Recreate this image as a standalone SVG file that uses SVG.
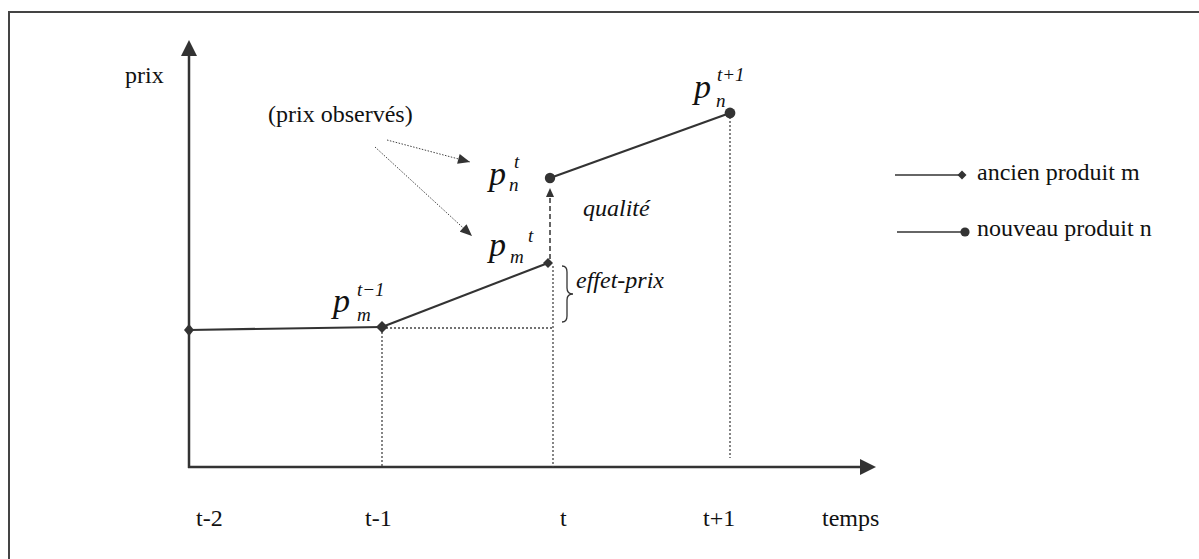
<svg xmlns="http://www.w3.org/2000/svg" width="1199" height="559" viewBox="0 0 1199 559">
<defs>
<style>
text{font-family:"Liberation Serif","Times New Roman",serif;fill:#111;}
.lbl{font-size:24px;}
.it{font-style:italic;}
.p{font-size:34px;font-style:italic;}
.s{font-size:19px;font-style:italic;}
.axis{stroke:#333;stroke-width:2.5;fill:none;}
.line{stroke:#333;stroke-width:2.2;fill:none;}
.dot{stroke:#444;stroke-width:1.3;stroke-dasharray:2 2;fill:none;}
.dash{stroke:#333;stroke-width:1.5;stroke-dasharray:5 3;fill:none;}
.mk{fill:#333;}
</style>
<marker id="arrs" viewBox="0 0 12 10" refX="12" refY="5" markerWidth="13" markerHeight="10" markerUnits="userSpaceOnUse" orient="auto">
<path d="M0,0 L12,5 L0,10 z" fill="#333"/>
</marker>
</defs>
<rect x="9" y="12" width="1200" height="560" fill="#fff" stroke="#444" stroke-width="2"/>

<g id="axes">
<line class="axis" x1="189" y1="468" x2="189" y2="54"/>
<path d="M189,40 L181,56 L197,56 z" class="mk"/>
<line class="axis" x1="188" y1="467" x2="861" y2="467"/>
<path d="M876,467 L860,459 L860,475 z" class="mk"/>
<text class="lbl" x="125" y="83">prix</text>
<text class="lbl" x="822" y="526">temps</text>
<text class="lbl" x="196" y="526">t-2</text>
<text class="lbl" x="365" y="526">t-1</text>
<text class="lbl" x="560" y="526">t</text>
<text class="lbl" x="703" y="526">t+1</text>
</g>

<g id="connectors">
<line class="dot" x1="382" y1="328" x2="382" y2="467"/>
<line class="dot" x1="553" y1="266" x2="553" y2="467"/>
<line class="dot" x1="730" y1="117" x2="730" y2="458"/>
<line class="dot" x1="382" y1="328" x2="553" y2="328"/>
<line class="dash" x1="550" y1="259" x2="550" y2="196"/>
<path d="M550,188 L546,197 L554,197 z" class="mk"/>
<line x1="387" y1="140" x2="470" y2="162" stroke="#444" stroke-width="1" stroke-dasharray="1.5 1.5" marker-end="url(#arrs)"/>
<line x1="375" y1="147" x2="472" y2="236" stroke="#444" stroke-width="1" stroke-dasharray="1.5 1.5" marker-end="url(#arrs)"/>
</g>

<g id="ancien-produit">
<line class="line" x1="189" y1="330" x2="382" y2="327"/>
<line class="line" x1="382" y1="327" x2="548" y2="263"/>
<path d="M189,324 L194,330 L189,336 L184,330 z" class="mk"/>
<path d="M382,321 L388,327 L382,333 L376,327 z" class="mk"/>
<path d="M548,258 L553,263 L548,268 L543,263 z" class="mk"/>
</g>

<g id="nouveau-produit">
<line class="line" x1="550" y1="178" x2="730" y2="113"/>
<circle cx="550" cy="178" r="5.2" class="mk"/>
<circle cx="730" cy="113" r="5.4" class="mk"/>
</g>

<g id="labels">
<text class="lbl" x="268" y="122">(prix observés)</text>
<text class="p" x="489" y="185">p</text>
<text class="s" x="514" y="168">t</text>
<text class="s" x="509" y="191">n</text>
<text class="p" x="489" y="256">p</text>
<text class="s" x="528" y="242">t</text>
<text class="s" x="510" y="263">m</text>
<text class="p" x="333" y="312">p</text>
<text class="s" x="357" y="296">t−1</text>
<text class="s" x="357" y="321">m</text>
<text class="p" x="694" y="98">p</text>
<text class="s" x="717" y="81">t+1</text>
<text class="s" x="716" y="107">n</text>
<text class="lbl it" x="583" y="216">qualité</text>
<text class="lbl it" x="576" y="288">effet-prix</text>
<path d="M562,266 Q567,266 567,272 L567,288 Q567,294 573,294 Q567,294 567,300 L567,316 Q567,322 562,322" fill="none" stroke="#333" stroke-width="1.3"/>
</g>

<g id="legende">
<line x1="895" y1="175" x2="959" y2="175" stroke="#333" stroke-width="1.4"/>
<path d="M962,170.5 L966.5,175 L962,179.5 L957.5,175 z" class="mk"/>
<text class="lbl" x="977" y="180">ancien produit m</text>
<line x1="897" y1="232" x2="963" y2="232" stroke="#333" stroke-width="1.4"/>
<circle cx="965" cy="232" r="4.6" class="mk"/>
<text class="lbl" x="977" y="236">nouveau produit n</text>
</g>
</svg>
